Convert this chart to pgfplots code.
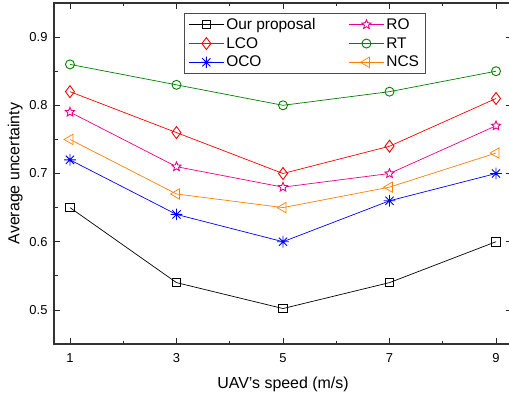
\documentclass[border=0pt]{standalone}
\usepackage{pgfplots}
\pgfplotsset{compat=1.18}
\usepackage{fontspec}
\setmainfont{Liberation Sans}
\definecolor{rtgreen}{RGB}{0,128,0}
\definecolor{ncsorange}{RGB}{255,128,0}
\pgfdeclareplotmark{ostar}{%
  \pgfpathmoveto{\pgfpointpolar{90}{\pgfplotmarksize}}%
  \pgfpathlineto{\pgfpointpolar{126}{0.45\pgfplotmarksize}}%
  \pgfpathlineto{\pgfpointpolar{162}{\pgfplotmarksize}}%
  \pgfpathlineto{\pgfpointpolar{198}{0.45\pgfplotmarksize}}%
  \pgfpathlineto{\pgfpointpolar{234}{\pgfplotmarksize}}%
  \pgfpathlineto{\pgfpointpolar{270}{0.45\pgfplotmarksize}}%
  \pgfpathlineto{\pgfpointpolar{306}{\pgfplotmarksize}}%
  \pgfpathlineto{\pgfpointpolar{342}{0.45\pgfplotmarksize}}%
  \pgfpathlineto{\pgfpointpolar{18}{\pgfplotmarksize}}%
  \pgfpathlineto{\pgfpointpolar{54}{0.45\pgfplotmarksize}}%
  \pgfpathclose
  \pgfusepathqfillstroke}
\pgfdeclareplotmark{oast}{%
  \pgfpathmoveto{\pgfpointpolar{90}{\pgfplotmarksize}}\pgfpathlineto{\pgfpointpolar{270}{\pgfplotmarksize}}%
  \pgfpathmoveto{\pgfpointpolar{0}{\pgfplotmarksize}}\pgfpathlineto{\pgfpointpolar{180}{\pgfplotmarksize}}%
  \pgfpathmoveto{\pgfpointpolar{45}{\pgfplotmarksize}}\pgfpathlineto{\pgfpointpolar{225}{\pgfplotmarksize}}%
  \pgfpathmoveto{\pgfpointpolar{135}{\pgfplotmarksize}}\pgfpathlineto{\pgfpointpolar{315}{\pgfplotmarksize}}%
  \pgfusepathqstroke}
\begin{document}
\begin{tikzpicture}
\begin{axis}[
  name=ax,
  scale only axis,
  width=458bp, height=341bp,
  xmin=0.7, xmax=9.3, ymin=0.45, ymax=0.95,
  xtick={1,3,5,7,9},
  minor xtick={2,4,6,8},
  ytick={0.5,0.6,0.7,0.8,0.9},
  minor ytick={0.45,0.55,0.65,0.75,0.85,0.95},
  tick align=inside,
  major tick length=6bp, minor tick length=3.5bp,
  every tick/.style={black!85, line width=0.8bp},
  axis line style={line width=1.1bp, black!80},
  tick label style={font=\fontsize{13}{15}\selectfont},
  /pgf/number format/assume math mode=true,
  yticklabel style={xshift=-3bp, /pgf/number format/.cd, fixed, precision=1, fixed zerofill},
  xticklabel style={yshift=-6bp},
  label style={font=\fontsize{16}{18}\selectfont},
  xlabel={UAV's speed (m/s)},
  ylabel={Average uncertainty},
  xlabel style={yshift=-7bp},
  ylabel style={yshift=0bp},
  legend columns=2,
  legend cell align=left,
  legend style={at={(0.284,0.971)}, anchor=north west, font=\fontsize{15.5}{17}\selectfont,
    draw=black!70, line width=0.7bp, /tikz/every even column/.append style={column sep=31bp},
    row sep=2.5bp, inner xsep=4bp, inner ysep=3bp},
  legend image code/.code={\draw[mark repeat=2,mark phase=2] plot coordinates {(0cm,0cm) (0.62cm,0cm) (1.24cm,0cm)};},
  every axis plot/.append style={line width=0.7bp, mark size=4.3bp, mark options={solid, fill=white, line width=0.9bp}},
]
\addplot[black, mark=square] coordinates {(1,0.65) (3,0.54) (5,0.502) (7,0.54) (9,0.60)};
\addlegendentry{Our proposal}
\addplot[magenta, mark=ostar, mark size=4.8bp] coordinates {(1,0.79) (3,0.71) (5,0.68) (7,0.70) (9,0.77)};
\addlegendentry{RO}
\addplot[red, mark=diamond, mark size=6bp] coordinates {(1,0.82) (3,0.76) (5,0.70) (7,0.74) (9,0.81)};
\addlegendentry{LCO}
\addplot[rtgreen, mark=o, mark size=4.5bp] coordinates {(1,0.86) (3,0.83) (5,0.80) (7,0.82) (9,0.85)};
\addlegendentry{RT}
\addplot[blue, mark=oast, mark size=5.8bp] coordinates {(1,0.72) (3,0.64) (5,0.60) (7,0.66) (9,0.70)};
\addlegendentry{OCO}
\addplot[ncsorange, mark=triangle, mark size=6bp, mark options={rotate=90}] coordinates {(1,0.75) (3,0.67) (5,0.65) (7,0.68) (9,0.73)};
\addlegendentry{NCS}
\end{axis}
\pgfresetboundingbox
\path[use as bounding box] ([xshift=-54bp,yshift=-55bp]ax.south west) rectangle ([xshift=-3bp,yshift=3bp]ax.north east);
\end{tikzpicture}
\end{document}
